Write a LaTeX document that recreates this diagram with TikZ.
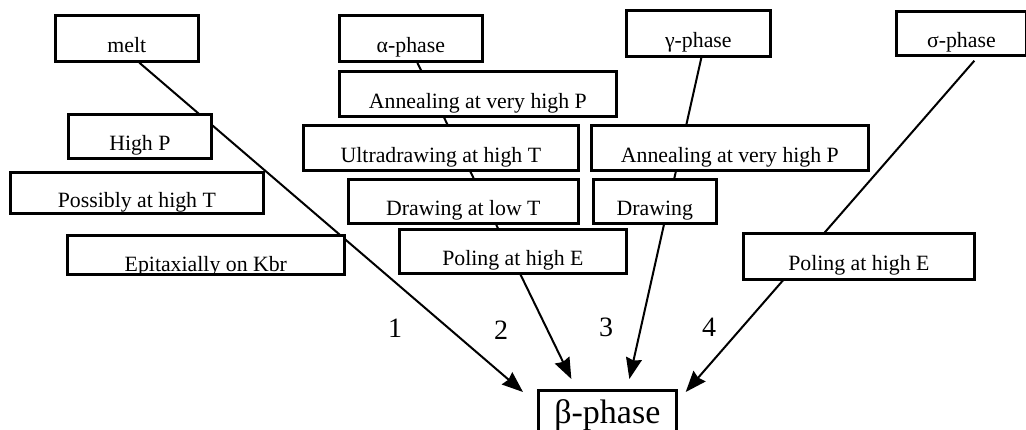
\documentclass[tikz,border=0pt]{standalone}
\usepackage{fontspec}
\setmainfont{Liberation Serif}
\usepackage{tikz}
\usetikzlibrary{arrows.meta,
                backgrounds}
\newcommand\boxtxt{\fontsize{10.9pt}{13pt}\selectfont}
\tikzset{
       arr/.style = {-{Stealth[length=10.5pt, width=8pt, inset=1pt]}, line width=1pt},
      base/.style = {draw, fill=white, line width=1.35pt, inner sep=0pt,
                     anchor=north west, font=\boxtxt, align=center,
                     text height=16.5pt, text depth=2pt},    % text sits low in the box
      proc/.style 2 args = {base, minimum width=#1, minimum height=#2},
    result/.style = {draw, fill=white, line width=1.35pt, inner sep=0pt,
                     anchor=north west, font=\fontsize{17pt}{20pt}\selectfont},
     route/.style = {font=\fontsize{14pt}{16pt}\selectfont},
        }

\begin{document}
\begin{tikzpicture}[x=0.5pt, y=-0.5pt]
  \useasboundingbox (0,0) rectangle (1026,429);

  % starting phases
  \node[proc={71.5pt}{23pt}]   (melt)    at (54,14)   {melt};
  \node[proc={71.5pt}{23pt}]   (alpha)   at (338,14)  {α-phase};
  \node[proc={72pt}{23pt}]     (gamma)   at (625,9)   {γ-phase};
  \node[proc={65pt}{22pt}]     (sigma)   at (895,10)  {σ-phase};

  % route 1
  \node[proc={71.5pt}{22pt}]   (highP)   at (67,113)  {High P};
  \node[proc={126.5pt}{20.5pt}] (poss)   at (9,171)   {Possibly at high T};
  \node[proc={138.5pt}{19.5pt}, text depth=-1.5pt] (epi) at (66,234) {Epitaxially on Kbr};

  % route 2
  \node[proc={138.5pt}{22.5pt}] (annA)   at (338,70)  {Annealing at very high P};
  \node[proc={137.5pt}{22.5pt}] (ultra)  at (302,124) {Ultradrawing at high T};
  \node[proc={115pt}{22pt}]    (drawlow) at (347,178) {Drawing at low T};
  \node[proc={113.5pt}{22pt}]  (polA)    at (398,228) {Poling at high E};

  % route 3
  \node[proc={138.5pt}{22.5pt}] (annB)   at (590,124) {Annealing at very high P};
  \node[proc={61.5pt}{22pt}]   (drawing) at (592,178) {Drawing};

  % route 4
  \node[proc={115.5pt}{23pt}]  (polB)    at (742,232) {Poling at high E};

  \node[result, minimum width=69pt, minimum height=25pt] (beta) at (537,389) {β-phase};

  \node[route] (n1) at (395,328) {1};
  \node[route] (n2) at (501,330) {2};
  \node[route] (n3) at (606,327) {3};
  \node[route] (n4) at (709,327) {4};

  \begin{scope}[on background layer]
  \draw[arr] ([xshift=6.25pt]melt.south)  -- ([xshift=-7pt, yshift=-1.5pt]beta.north west);
  \draw[arr] ([xshift=3.25pt]alpha.south) -- ([xshift=-18pt, yshift=5pt]beta.north);
  \draw[arr] ([xshift=1.5pt]gamma.south)  -- ([xshift=11pt, yshift=5pt]beta.north);
  \draw[arr] ([xshift=6.5pt, yshift=-2pt]sigma.south) -- ([xshift=4pt, yshift=-1.5pt]beta.north east);
  \end{scope}
\end{tikzpicture}
\end{document}
